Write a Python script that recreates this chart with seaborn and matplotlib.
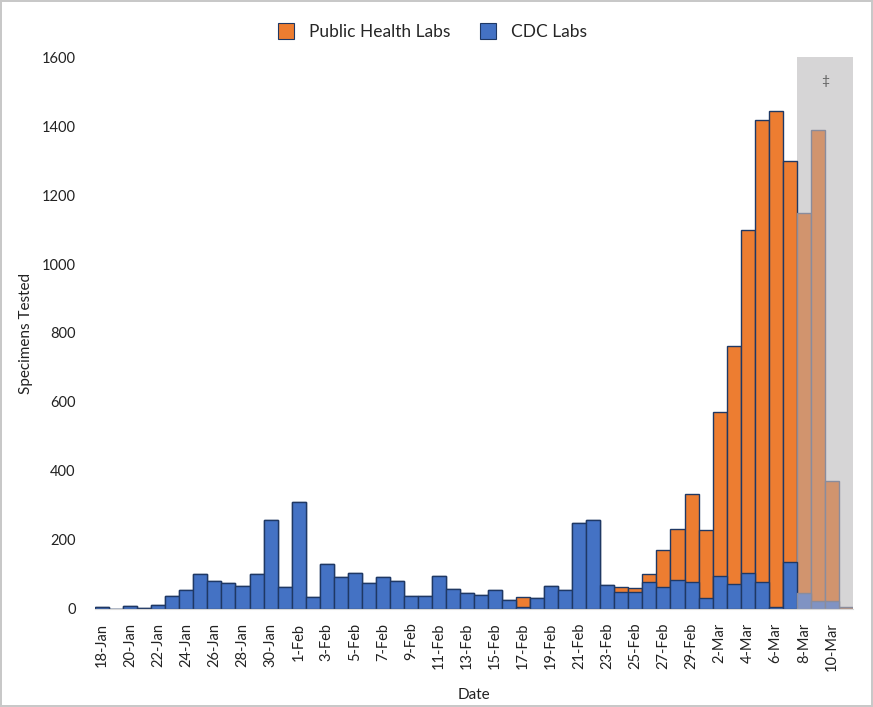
import matplotlib.pyplot as plt
import numpy as np
import pandas as pd
import seaborn as sns
from matplotlib.lines import Line2D

# daily specimen counts (18-Jan .. 11-Mar 2020)
dates = (
    [f"{d}-Jan" for d in range(18, 32)]
    + [f"{d}-Feb" for d in range(1, 30)]
    + [f"{d}-Mar" for d in range(1, 12)]
)

cdc_labs = [
    4, 0, 7, 3, 10, 37, 53, 100, 80, 75, 66, 100, 256, 64,          # Jan
    309, 33, 131, 92, 103, 75, 92, 80, 38, 36, 94, 57, 47, 39, 53,  # 1-15 Feb
    24, 5, 32, 65, 55, 250, 256, 68, 49, 49, 78, 62, 84, 78,        # 16-29 Feb
    30, 94, 72, 105, 78, 5, 137, 45, 21, 23, 0,                     # Mar
]

public_health_labs = [
    0, 0, 0, 0, 0, 0, 0, 0, 0, 0, 0, 0, 0, 0,
    0, 0, 0, 0, 0, 0, 0, 0, 0, 0, 0, 0, 0, 0, 0,
    0, 29, 0, 0, 0, 0, 0, 0, 13, 12, 24, 108, 146, 254,
    198, 478, 690, 995, 1339, 1438, 1162, 1104, 1368, 349, 5,
]

# last days are incomplete (shaded)
n_shaded = 4

orange = "#ED7D31"
blue = "#4472C4"
edge = "#1F3864"

df = pd.DataFrame({"Date": dates, "CDC": cdc_labs, "PHL": public_health_labs})
df["Total"] = df["CDC"] + df["PHL"]

sns.set_style("white")
plt.rcParams["font.family"] = ["Lato", "DejaVu Sans"]

fig = plt.figure(figsize=(8.73, 7.07), dpi=100)
fig.patch.set_edgecolor("#c8c8c8")
fig.patch.set_linewidth(1.5)
ax = fig.add_axes([0.109, 0.139, 0.868, 0.780])

n = len(dates)
ax.axvspan(n - n_shaded - 0.5, n - 0.5, ymin=0, ymax=1, color="#D6D5D6", zorder=0, lw=0)

sns.barplot(data=df, x="Date", y="Total", order=dates, color=orange, saturation=1,
            width=1.0, edgecolor=edge, linewidth=1, ax=ax, zorder=2)
sns.barplot(data=df, x="Date", y="CDC", order=dates, color=blue, saturation=1,
            width=1.0, edgecolor=edge, linewidth=1, ax=ax, zorder=3)

# fade the shaded days
orange_bars = ax.containers[0].patches
blue_bars = ax.containers[1].patches
for i in range(n - n_shaded, n):
    orange_bars[i].set_facecolor("#D1946E")
    orange_bars[i].set_edgecolor("#8A8C9C")
    blue_bars[i].set_facecolor("#8093C3")
    blue_bars[i].set_edgecolor("#8A8C9C")

ax.text(n - 2.5, 1530, "\u2021", ha="center", va="center", fontsize=10, color="#606060")

ax.set_ylim(0, 1600)
ax.set_xlim(-0.5, n - 0.5)
ax.set_yticks(np.arange(0, 1601, 200))
ax.set_xticks(range(0, n, 2))
ax.set_xticklabels(dates[::2], rotation=90)
ax.tick_params(axis="both", labelsize=10.5, length=0, colors="#222222")
ax.tick_params(axis="y", pad=14)
ax.tick_params(axis="x", pad=10)
ax.set_xlabel("Date", fontsize=11, color="#222222", labelpad=12)
ax.set_ylabel("Specimens Tested", fontsize=11, color="#222222", labelpad=6)

for side in ["top", "right", "left"]:
    ax.spines[side].set_visible(False)
ax.spines["bottom"].set_color("#d9d9d9")
ax.spines["bottom"].set_zorder(5)

handles = [
    Line2D([], [], marker="s", linestyle="", markersize=11, markerfacecolor=orange,
           markeredgecolor=edge, markeredgewidth=0.8, label="Public Health Labs"),
    Line2D([], [], marker="s", linestyle="", markersize=11, markerfacecolor=blue,
           markeredgecolor=edge, markeredgewidth=0.8, label="CDC Labs"),
]
fig.legend(handles=handles, loc="center", bbox_to_anchor=(0.49, 0.955), ncol=2,
           frameon=False, fontsize=12.5, handletextpad=0.3, columnspacing=1.2)

fig.savefig("out.png", dpi=100)
